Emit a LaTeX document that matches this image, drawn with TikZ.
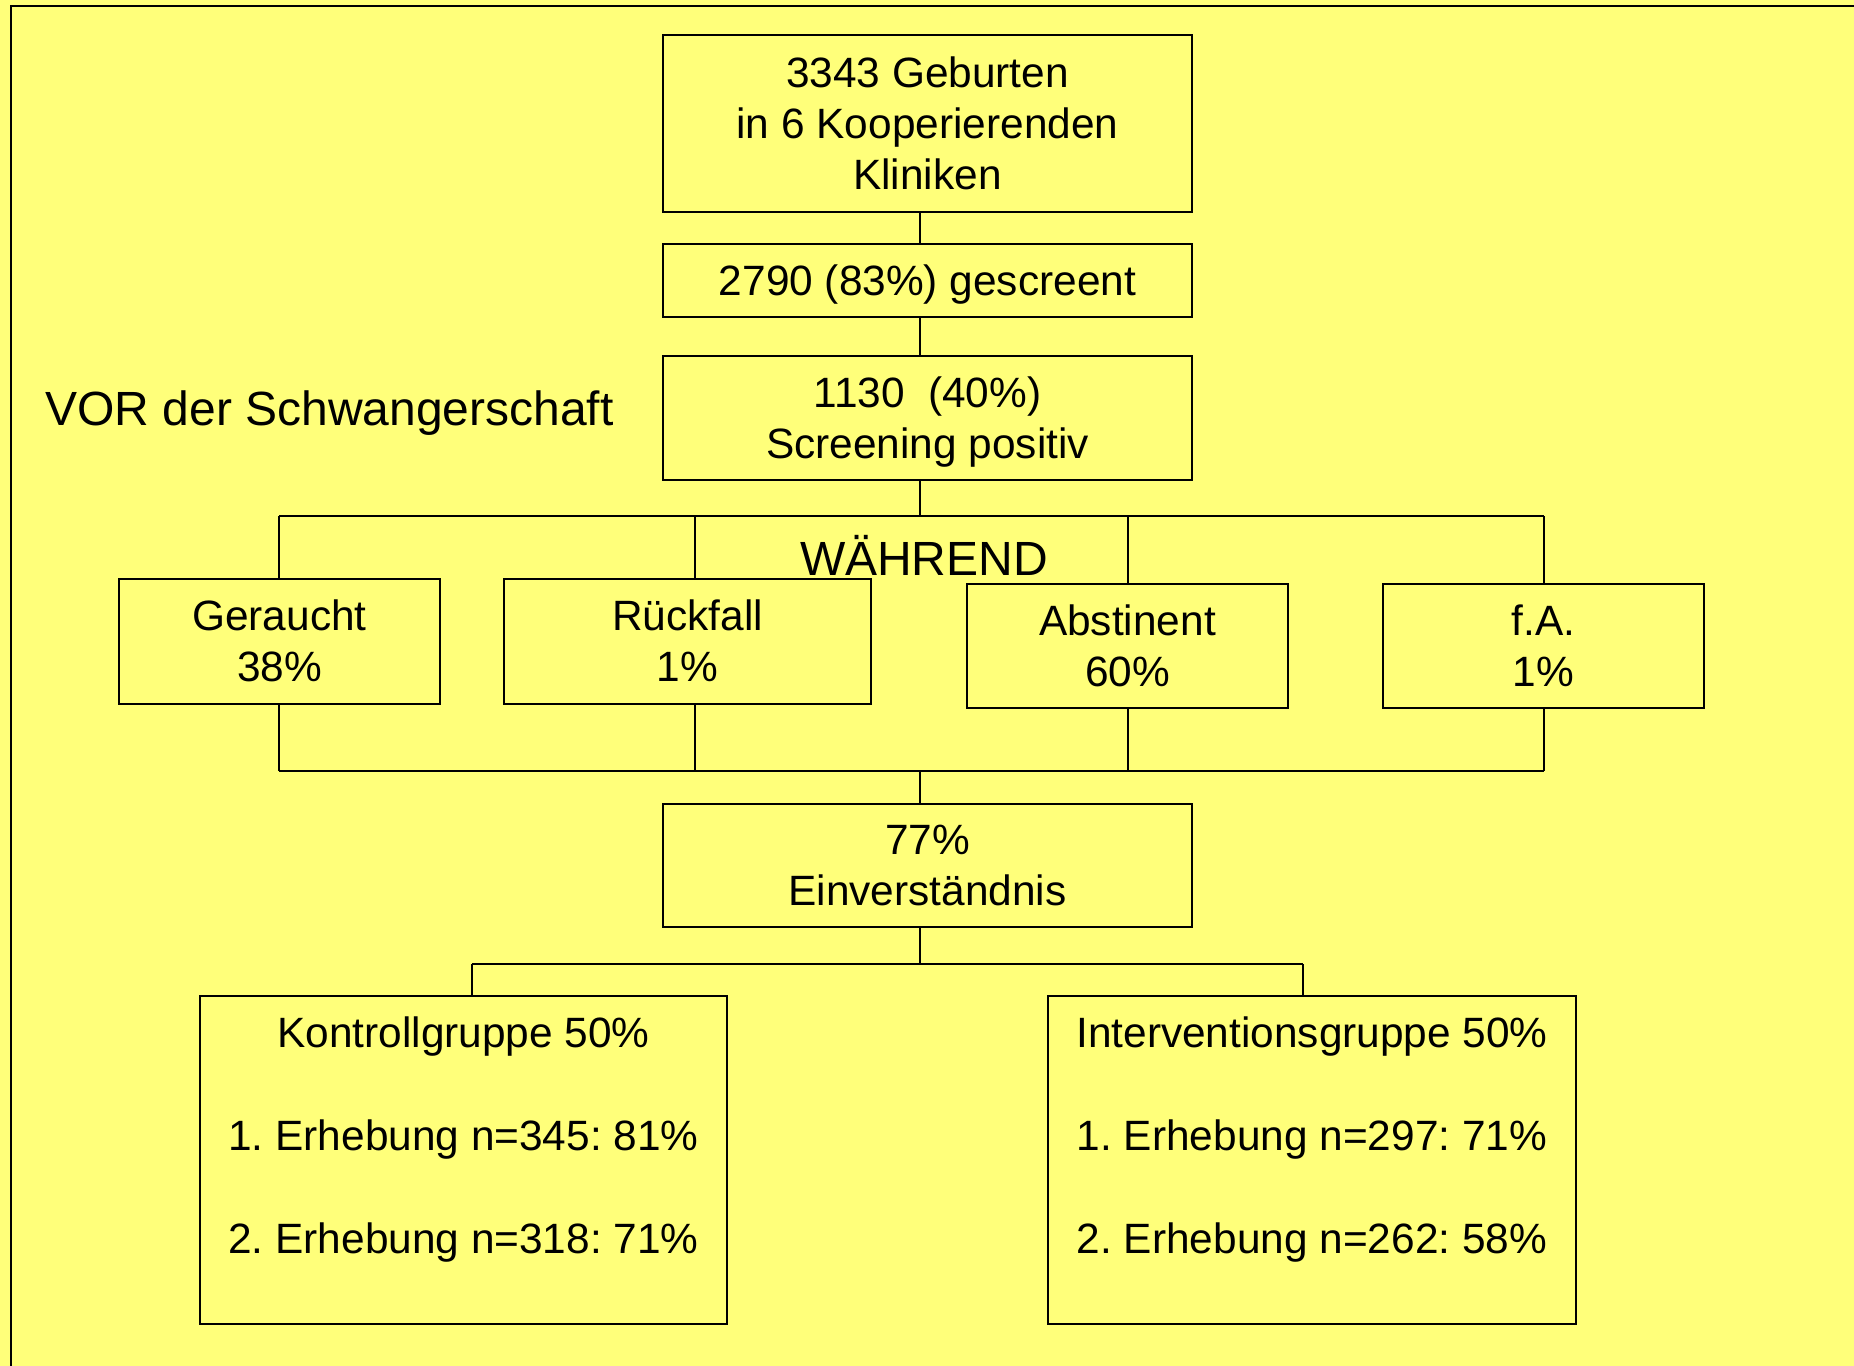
\documentclass[tikz,border=0pt]{standalone}
\usepackage{fontspec}
\setmainfont{Liberation Sans}
\frenchspacing
\definecolor{bg}{RGB}{255,255,122}
\newcommand{\boxfont}{\fontsize{21.2}{25.5}\selectfont\frenchspacing}
\newcommand{\bigfont}{\fontsize{24}{29}\selectfont}
\newcommand{\ps}{\rule[-0.212em]{0pt}{1.117em}}
\begin{document}
\begin{tikzpicture}[x=0.5pt,y=-0.5pt,
  box/.style={draw, fill=bg, line width=0.6pt, inner sep=0pt, align=center, font=\boxfont},
  link/.style={line width=0.6pt},
  lbl/.style={inner sep=0pt, font=\bigfont}]
\fill[bg] (0,0) rectangle (1854,1366);
\useasboundingbox (0,0) rectangle (1854,1366);
\draw[line width=1pt] (10.8,1366) -- (10.8,6) -- (1854,6);

% boxes
\node[box, minimum width=264.5pt, minimum height=88.5pt] (top) at (927.5,123.5) {\ps 3343 Geburten\\in 6 Kooperierenden\\\ps Kliniken};
\node[box, minimum width=264.5pt, minimum height=36.5pt] (scr) at (927.5,280.5) {\ps 2790 (83\%) gescreent};
\node[box, minimum width=264.5pt, minimum height=62pt] (pos) at (927.5,418) {\ps 1130\ \ (40\%)\\\ps Screening positiv};

\node[lbl, anchor=base west] (vor) at (45,425) {VOR der Schwangerschaft};
\node[lbl, anchor=base] (wae) at (924,575) {WÄHREND};

\node[box, minimum width=160.5pt, minimum height=62.5pt] (ger) at (279.5,641.5) {\ps Geraucht\\\ps 38\%};
\node[box, minimum width=183.5pt, minimum height=62.5pt] (rue) at (687.5,641.5) {\ps Rückfall\\\ps 1\%};
\node[box, minimum width=160.5pt, minimum height=62pt] (abs) at (1127.5,646) {\ps Abstinent\\\ps 60\%};
\node[box, minimum width=160.5pt, minimum height=62pt] (fa) at (1543.5,646) {\ps f.A.\\\ps 1\%};

\node[box, minimum width=264.5pt, minimum height=61.5pt] (einv) at (927.5,865.5) {\ps 77\%\\\ps Einverständnis};

\node[box] (kg) at (463.5,1160) {\begin{minipage}[c][164pt][t]{263.5pt}\centering\vspace*{10.5pt}Kontrollgruppe 50\%\\[26pt]1. Erhebung n=345: 81\%\\[26pt]2. Erhebung n=318: 71\%\end{minipage}};
\node[box] (ig) at (1312,1160) {\begin{minipage}[c][164pt][t]{264pt}\centering\vspace*{10.5pt}Interventionsgruppe 50\%\\[26pt]1. Erhebung n=297: 71\%\\[26pt]2. Erhebung n=262: 58\%\end{minipage}};

% bus coordinates
\coordinate (xa) at (279,516);
\coordinate (xb) at (695,516);
\coordinate (xc) at (920,516);
\coordinate (xd) at (1128,516);
\coordinate (xe) at (1544,516);
\coordinate (ba) at (279,771);
\coordinate (bb) at (695,771);
\coordinate (bc) at (920,771);
\coordinate (bd) at (1128,771);
\coordinate (be) at (1544,771);
\coordinate (gc) at (920,964);
\coordinate (gl) at (472,964);
\coordinate (gr) at (1303,964);

% connectors
\draw[link] (top.south -| xc) -- (scr.north -| xc);
\draw[link] (scr.south -| xc) -- (pos.north -| xc);
\draw[link] (pos.south -| xc) -- (xc);
\draw[link] (xa) -- (xe);
\draw[link] (xa) -- (ger.north -| xa);
\draw[link] (xb) -- (rue.north -| xb);
\draw[link] (xd) -- (abs.north -| xd);
\draw[link] (xe) -- (fa.north -| xe);
\draw[link] (ger.south -| ba) -- (ba);
\draw[link] (rue.south -| bb) -- (bb);
\draw[link] (abs.south -| bd) -- (bd);
\draw[link] (fa.south -| be) -- (be);
\draw[link] (ba) -- (be);
\draw[link] (bc) -- (einv.north -| bc);
\draw[link] (einv.south -| gc) -- (gc);
\draw[link] (gl) -- (gr);
\draw[link] (gl) -- (kg.north -| gl);
\draw[link] (gr) -- (ig.north -| gr);
\end{tikzpicture}
\end{document}
